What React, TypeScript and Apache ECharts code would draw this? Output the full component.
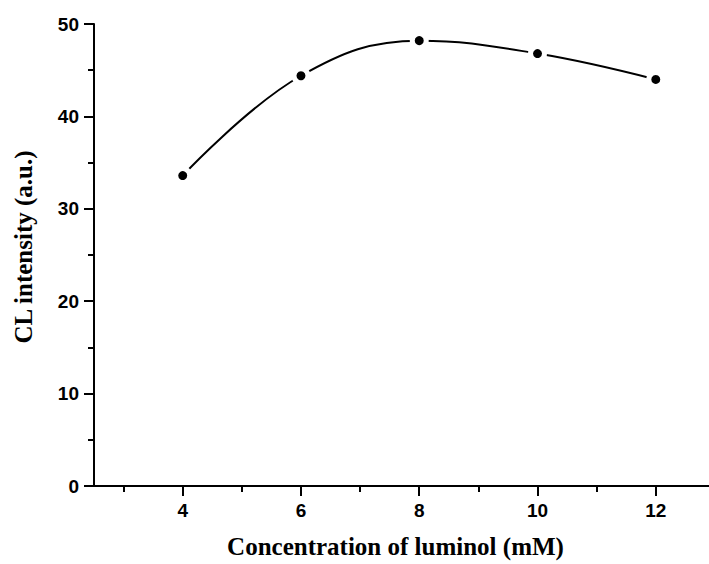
import React, { useEffect, useRef } from "react";
import * as echarts from "echarts";

const concentrations = [4, 6, 8, 10, 12];
const intensities = [33.6, 44.4, 48.2, 46.8, 44.0];
const xMajorTicks = [4, 6, 8, 10, 12];
const xMinorTicks = [3, 5, 7, 9, 11];
const xTitle = "Concentration of luminol (mM)";
const yTitle = "CL intensity (a.u.)";

export default function App() {
  const ref = useRef<HTMLDivElement>(null);
  useEffect(() => {
    if (!ref.current) return;
    const chart = echarts.init(ref.current, null, { renderer: "svg" });
    const labelFont = {
      fontFamily: "Liberation Sans, Arial, sans-serif",
      fontWeight: "bold" as const,
      fontSize: 19,
      color: "#000",
    };
    const titleFont = {
      fontFamily: "Liberation Serif, Times New Roman, serif",
      fontWeight: "bold" as const,
      fontSize: 25,
    };
    chart.setOption({
      animation: false,
      backgroundColor: "#fff",
      grid: { left: 94, right: 0, top: 24, bottom: 76 },
      xAxis: [
        {
          type: "value",
          min: 2.5,
          max: 12.9,
          axisLine: { show: true, onZero: false, lineStyle: { color: "#000", width: 2 } },
          axisTick: { show: true, customValues: xMajorTicks, length: 10, lineStyle: { color: "#000", width: 2 } },
          axisLabel: { show: true, customValues: xMajorTicks, margin: 15, ...labelFont },
          splitLine: { show: false },
          name: xTitle,
          nameLocation: "middle",
          nameGap: 48,
          nameTextStyle: { ...titleFont, color: "#000", padding: [0, 12, 0, 0] },
        },
        {
          type: "value",
          min: 2.5,
          max: 12.9,
          position: "bottom",
          axisLine: { show: false, onZero: false },
          axisTick: { show: true, customValues: xMinorTicks, length: 6, lineStyle: { color: "#000", width: 2 } },
          axisLabel: { show: false },
          splitLine: { show: false },
        },
      ],
      yAxis: {
        type: "value",
        min: 0,
        max: 50,
        interval: 10,
        axisLine: { show: true, onZero: false, lineStyle: { color: "#000", width: 2 } },
        axisTick: { show: true, length: 10, lineStyle: { color: "#000", width: 2 } },
        minorTick: { show: true, splitNumber: 2, length: 6, lineStyle: { color: "#000", width: 2 } },
        axisLabel: { margin: 15, ...labelFont },
        splitLine: { show: false },
      },
      graphic: [
        {
          type: "text",
          x: 23,
          y: 247,
          rotation: Math.PI / 2,
          style: {
            text: yTitle,
            ...titleFont,
            fill: "#000",
            align: "center",
            verticalAlign: "middle",
          },
        },
      ],
      series: [
        {
          type: "line",
          xAxisIndex: 0,
          data: concentrations.map((c, i) => [c, intensities[i]]),
          smooth: 0.4,
          symbol: "circle",
          symbolSize: 14,
          lineStyle: { color: "#000", width: 2 },
          itemStyle: { color: "#000", borderColor: "#fff", borderWidth: 5 },
        },
      ],
    });
    return () => chart.dispose();
  }, []);
  return (
    <div
      ref={ref}
      style={{ position: "fixed", left: 0, top: 0, width: 709, height: 564 }}
    />
  );
}
